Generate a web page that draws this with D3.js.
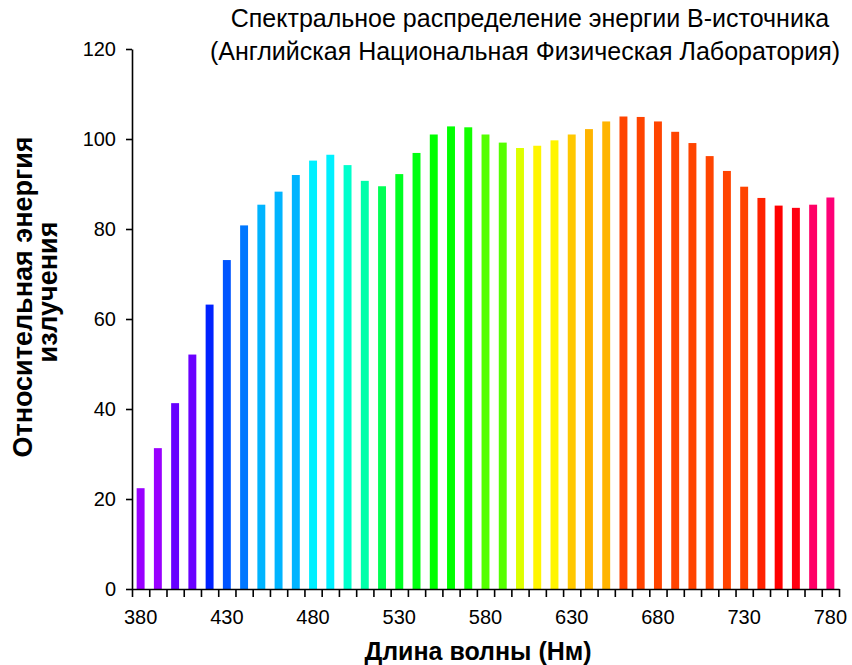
<!DOCTYPE html>
<html>
<head>
<meta charset="utf-8">
<script src="https://cdn.jsdelivr.net/npm/d3@7"></script>
<style>
  body { margin: 0; background: #fff; }
  text { font-family: "Liberation Sans", Arial, sans-serif; }
</style>
</head>
<body>
<div id="chart"></div>
<script>
// wavelength categories (nm)
var wavelengths = [380, 390, 400, 410, 420, 430, 440, 450, 460, 470,
  480, 490, 500, 510, 520, 530, 540, 550, 560, 570,
  580, 590, 600, 610, 620, 630, 640, 650, 660, 670,
  680, 690, 700, 710, 720, 730, 740, 750, 760, 770, 780];

// relative radiant energy
var energy = [22.4, 31.3, 41.3, 52.1, 63.2, 73.1, 80.8, 85.4, 88.3, 92.0,
  95.2, 96.5, 94.2, 90.7, 89.5, 92.2, 96.9, 101.0, 102.8, 102.6,
  101.0, 99.2, 98.0, 98.5, 99.7, 101.0, 102.2, 103.9, 105.0, 104.9,
  103.9, 101.6, 99.1, 96.2, 92.9, 89.4, 86.9, 85.2, 84.7, 85.4, 87.0];

// bar colours, one per wavelength
var barColors = ["#9900ff", "#9900ff", "#6600ff", "#6a00ff", "#0022ff", "#0055ff", "#0077ff", "#00b4ff", "#00b4ff", "#00b4ff",
  "#00f0ff", "#00f0ff", "#00ffcc", "#00ffaa", "#00ff55", "#00ff22", "#00ff11", "#00ff00", "#00ff00", "#11ff00",
  "#55ff00", "#55ff00", "#ddff00", "#fff500", "#fff500", "#ffc800", "#ffb400", "#ffb400", "#ff4400", "#ff4400",
  "#ff4400", "#ff4400", "#ff4400", "#ff4400", "#ff4400", "#ff4400", "#ff2200", "#ff0000", "#ff0011", "#ff0066", "#ff0077"];

var yTicks = [0, 20, 40, 60, 80, 100, 120];
var xLabelTicks = [380, 430, 480, 530, 580, 630, 680, 730, 780];

var svgWidth = 852;
var svgHeight = 665;

var margin = { top: 49, right: 13, bottom: 76, left: 132 };
var chartWidth = svgWidth - margin.left - margin.right;
var chartHeight = svgHeight - margin.top - margin.bottom;

var svg = d3.select("#chart")
  .append("svg")
  .attr("width", svgWidth)
  .attr("height", svgHeight);

var chartGroup = svg.append("g")
  .attr("transform", `translate(${margin.left}, ${margin.top})`);

// scales
var pad = 0.54;
var xBand = d3.scaleBand()
  .domain(wavelengths)
  .range([0, chartWidth])
  .paddingInner(pad)
  .paddingOuter(pad / 2);

// boundaries between categories, for the tick marks
var xEdge = d3.scaleLinear()
  .domain([0, wavelengths.length])
  .range([0, chartWidth]);

var yLinearScale = d3.scaleLinear()
  .domain([0, 120])
  .range([chartHeight, 0]);

// bars
chartGroup.selectAll("rect.bar")
  .data(wavelengths)
  .enter()
  .append("rect")
  .attr("class", "bar")
  .attr("x", d => xBand(d))
  .attr("width", xBand.bandwidth())
  .attr("y", (d, i) => yLinearScale(energy[i]))
  .attr("height", (d, i) => chartHeight - yLinearScale(energy[i]))
  .attr("fill", (d, i) => barColors[i]);

// y axis
var leftAxis = d3.axisLeft(yLinearScale)
  .tickValues(yTicks)
  .tickSize(6)
  .tickSizeOuter(0)
  .tickPadding(10);

var yAxis = chartGroup.append("g").call(leftAxis);
yAxis.selectAll("text").attr("font-size", 20).attr("fill", "#000")
  .style("font-family", "'Liberation Sans', Arial, sans-serif");

// x axis tick marks at the category boundaries
var edgeAxis = d3.axisBottom(xEdge)
  .tickValues(d3.range(wavelengths.length + 1))
  .tickFormat("")
  .tickSize(8)
  .tickSizeOuter(0);

var xAxis = chartGroup.append("g")
  .attr("transform", `translate(0, ${chartHeight})`)
  .call(edgeAxis);

// x labels every 50 nm, centred on the bars
var labelAxis = d3.axisBottom(xBand)
  .tickValues(xLabelTicks)
  .tickSize(0)
  .tickPadding(21);

var xLabels = chartGroup.append("g")
  .attr("transform", `translate(0, ${chartHeight})`)
  .call(labelAxis);
xLabels.select(".domain").remove();
xLabels.selectAll("text").attr("font-size", 20).attr("fill", "#000")
  .style("font-family", "'Liberation Sans', Arial, sans-serif");

svg.selectAll(".domain, .tick line")
  .attr("stroke", "#000")
  .attr("stroke-width", 1.6);

// titles
var title = svg.append("text")
  .attr("text-anchor", "middle")
  .attr("font-size", 25)
  .attr("fill", "#000");
title.append("tspan").attr("x", 530).attr("y", 27)
  .text("Спектральное распределение энергии В-источника");
title.append("tspan").attr("x", 525).attr("y", 60)
  .text("(Английская Национальная Физическая Лаборатория)");

svg.append("text")
  .attr("x", 478)
  .attr("y", 660)
  .attr("text-anchor", "middle")
  .attr("font-size", 25)
  .attr("font-weight", "bold")
  .text("Длина волны (Нм)");

svg.append("text")
  .attr("transform", "translate(32, 297) rotate(-90)")
  .attr("text-anchor", "middle")
  .attr("font-size", 27)
  .attr("font-weight", "bold")
  .text("Относительная энергия");

svg.append("text")
  .attr("transform", "translate(57, 292) rotate(-90)")
  .attr("text-anchor", "middle")
  .attr("font-size", 27)
  .attr("font-weight", "bold")
  .text("излучения");
</script>
</body>
</html>
